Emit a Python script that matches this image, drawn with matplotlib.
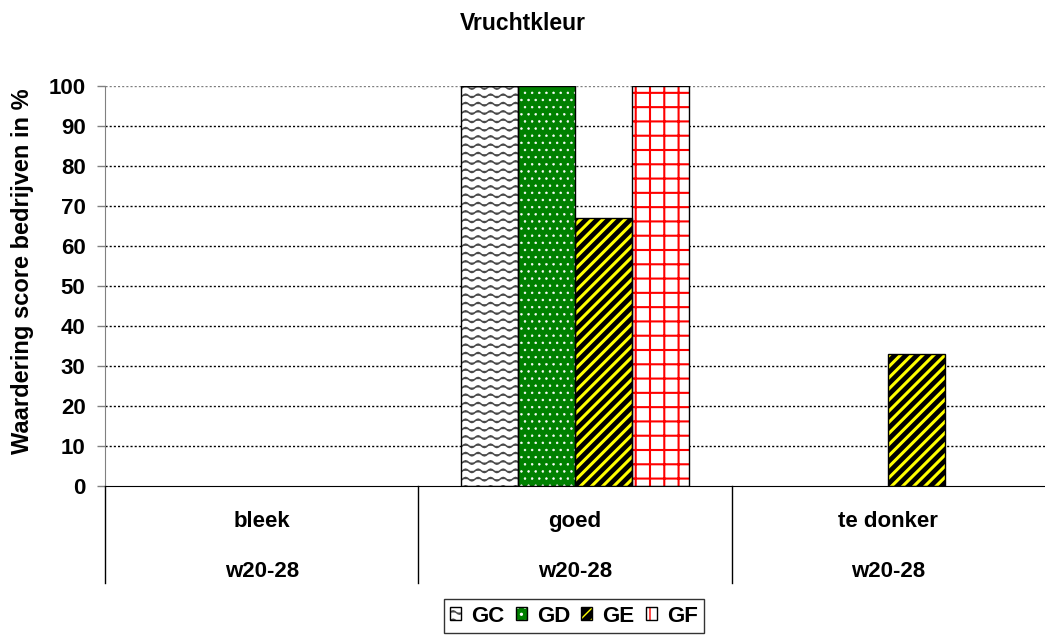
import warnings
import numpy as np
import matplotlib
matplotlib.use('Agg')
import matplotlib.pyplot as plt
import matplotlib.hatch as mhatch
import matplotlib.transforms as mtrans
from matplotlib.path import Path

warnings.filterwarnings('ignore')

##### data
categories = ['bleek', 'goed', 'te donker']
periods = ['w20-28', 'w20-28', 'w20-28']
series = ['GC', 'GD', 'GE', 'GF']
GC = [0, 100, 0]
GD = [0, 100, 0]
GE = [0, 67, 33]
GF = [0, 100, 0]
values = [GC, GD, GE, GF]
yticks = [0, 10, 20, 30, 40, 50, 60, 70, 80, 90, 100]


##### custom hatches (one hatch tile = 100 px at this dpi)
class WaveHatch(mhatch.HatchPatternBase):
    # 'z' : wavy rows like the excel pattern
    def __init__(self, hatch, density):
        self.num_rows = hatch.count('z') * 12
        self.teeth = 8
        self.n = self.teeth * 8 + 1
        self.num_vertices = self.num_rows * self.n

    def set_vertices_and_codes(self, vertices, codes):
        t = np.linspace(0, 1, self.n)
        wave = 0.017 * np.sin(2 * np.pi * self.teeth * t)
        for i in range(self.num_rows):
            y0 = (i + 0.5) / self.num_rows
            vertices[i * self.n:(i + 1) * self.n, 0] = t
            vertices[i * self.n:(i + 1) * self.n, 1] = y0 + wave
            codes[i * self.n] = Path.MOVETO
            codes[i * self.n + 1:(i + 1) * self.n] = Path.LINETO


class GridHatch(mhatch.HatchPatternBase):
    # 'g' : square grid
    def __init__(self, hatch, density):
        self.num_lines = hatch.count('g') * 7
        self.num_vertices = self.num_lines * 4

    def set_vertices_and_codes(self, vertices, codes):
        n = self.num_lines
        steps = (np.arange(n) + 0.5) / n
        vertices[0:2 * n:2, 0] = 0.0
        vertices[0:2 * n:2, 1] = steps
        vertices[1:2 * n:2, 0] = 1.0
        vertices[1:2 * n:2, 1] = steps
        vertices[2 * n::2, 0] = steps
        vertices[2 * n::2, 1] = 0.0
        vertices[2 * n + 1::2, 0] = steps
        vertices[2 * n + 1::2, 1] = 1.0
        codes[0::2] = Path.MOVETO
        codes[1::2] = Path.LINETO


class DotHatch(mhatch.Circles):
    # 'd' : staggered small filled dots
    size = 0.13
    filled = True

    def __init__(self, hatch, density):
        self.num_rows = hatch.count('d') * 14
        super().__init__(hatch, density)


mhatch._hatch_types.extend([WaveHatch, GridHatch, DotHatch])

# face, hatch, hatch color, hatch linewidth
styles = [
    ('white', 'z', '#4a4a4a', 1.1),
    ('#008000', 'd', 'white', 0.4),
    ('black', '///', '#ffff00', 2.2),
    ('white', 'g', '#ff0000', 1.5),
]


def with_hatch_lw(artist, lw):
    if hasattr(artist, 'set_hatch_linewidth'):
        artist.set_hatch_linewidth(lw)
    orig = artist.draw

    def draw(renderer):
        with plt.rc_context({'hatch.linewidth': lw}):
            orig(renderer)
    artist.draw = draw


plt.rcParams['font.family'] = ['Liberation Sans', 'DejaVu Sans']
plt.rcParams['font.weight'] = 'bold'
fs = 16

fig = plt.figure(figsize=(10.45, 6.35), dpi=100)
ax = fig.add_axes([105 / 1045, 1 - 486 / 635, 1 - 105 / 1045, 400 / 635])

x = np.arange(len(categories))
w = 0.182
handles = []
for i, (name, vals) in enumerate(zip(series, values)):
    face, hatch, hcol, hlw = styles[i]
    pos = x + (i - 1.5) * w
    vals = np.array(vals)
    keep = vals > 0
    filled = ax.bar(pos[keep], vals[keep], w, color=face, hatch=hatch,
                    edgecolor=hcol, linewidth=0, zorder=3)
    for b in filled:
        with_hatch_lw(b, hlw)
    outline = ax.bar(pos[keep], vals[keep], w, fill=False, edgecolor='black',
                     linewidth=1.0, zorder=4)
    handles.append((filled, outline))

ax.set_xlim(-0.5, len(categories) - 0.5)
ax.set_ylim(0, 100)
ax.set_yticks(yticks)
ax.tick_params(axis='y', direction='out', length=6, width=1, color='#808080',
               labelsize=fs, pad=8)
ax.set_xticks([])

for s in ['top', 'right']:
    ax.spines[s].set_visible(False)
ax.spines['left'].set_color('#808080')
ax.spines['bottom'].set_color('black')
ax.spines['bottom'].set_zorder(5)

for yv in yticks[1:]:
    ax.axhline(yv, color='black' if yv < 100 else '#808080', linewidth=1,
               linestyle=(0, (1.5, 1.5)), zorder=1)

# category table under the axis
trans = mtrans.blended_transform_factory(ax.transData, ax.transAxes)
for b in np.arange(len(categories)) - 0.5:
    ax.plot([b, b], [0, -0.2425], transform=trans, color='black',
            linewidth=1, clip_on=False)
for xi, (c, p) in enumerate(zip(categories, periods)):
    ax.text(xi, -0.088, c, transform=trans, ha='center', va='center',
            fontsize=fs, fontweight='bold')
    ax.text(xi, -0.213, p, transform=trans, ha='center', va='center',
            fontsize=fs, fontweight='bold')

fig.text(0.5, 1 - 23 / 635, 'Vruchtkleur', ha='center', va='center',
         fontsize=16.5, fontweight='bold')
fig.text(23 / 1045, 1 - 271 / 635, 'Waardering score bedrijven in %',
         rotation=90, ha='center', va='center', fontsize=17,
         fontweight='bold')

leg = fig.legend(handles, series, loc='center',
                 bbox_to_anchor=(574 / 1045, 1 - 616 / 635),
                 ncol=4, fontsize=fs, frameon=True, fancybox=False,
                 edgecolor='black', handlelength=0.5, handleheight=0.5,
                 handletextpad=0.45, columnspacing=0.5, borderpad=0.3,
                 borderaxespad=0)
leg.get_frame().set_linewidth(1)

fig.savefig('out.png', dpi=100)
